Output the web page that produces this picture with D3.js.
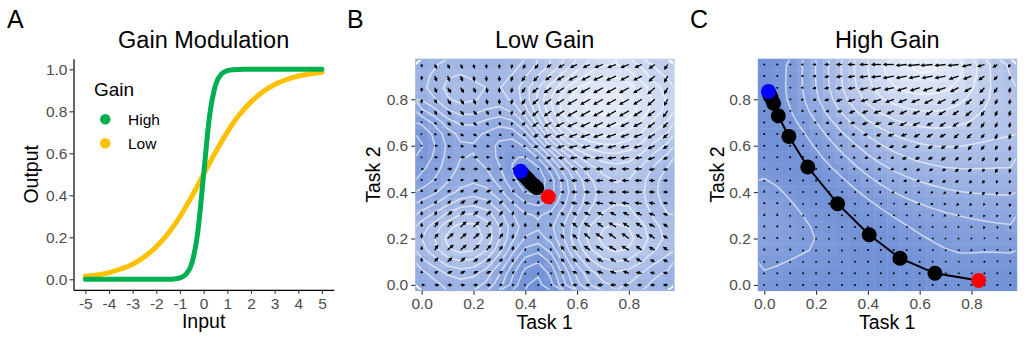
<!DOCTYPE html>
<html>
<head>
<meta charset="utf-8">
<script src="https://cdn.jsdelivr.net/npm/d3@7"></script>
<style>
  body { margin: 0; background: #ffffff; }
  svg { display: block; }
  text { font-family: "Liberation Sans", Arial, sans-serif; }
</style>
</head>
<body>
<svg id="fig" width="1024" height="341"></svg>
<script>
// ---------- Panel A: activation curves ----------
const lowInput  = [-5,-4.5,-4,-3.5,-3,-2.5,-2,-1.5,-1,-0.5,0,0.5,1,1.5,2,2.5,3,3.5,4,4.5,5];
const lowOutput = [0.014,0.021,0.032,0.049,0.072,0.107,0.155,0.218,0.299,0.395,0.5,0.605,0.701,0.782,0.845,0.893,0.928,0.951,0.968,0.979,0.986];
const highInput  = [-5,-4,-3,-2,-1.75,-1.5,-1.25,-1,-0.75,-0.5,-0.25,0,0.25,0.5,0.75,1,1.25,1.5,1.75,2,3,4,5];
const highOutput = [0,0,0,0.0002,0.0002,0.0006,0.0019,0.0067,0.023,0.0759,0.2227,0.5,0.7773,0.9241,0.977,0.9933,0.9981,0.9994,0.9998,1,1,1,1];
const gainLevels = ["High", "Low"];
const gainColors = ["#00B050", "#FFC000"];
const inputTicks = [-5,-4,-3,-2,-1,0,1,2,3,4,5];
const inputTickLabels = ["-5","-4","-3","-2","-1","0","1","2","3","4","5"];
const outputTicks = [0,0.2,0.4,0.6,0.8,1.0];
const outputTickLabels = ["0.0","0.2","0.4","0.6","0.8","1.0"];

// ---------- Panels B/C: task-space flow fields ----------
// grid positions along each task axis
const gridSteps = [0,0.05,0.1,0.15,0.2,0.25,0.3,0.35,0.4,0.45,0.5,0.55,0.6,0.65,0.7,0.75,0.8,0.85,0.9,0.95];
const taskTicks = [0,0.2,0.4,0.6,0.8];
const taskTickLabels = ["0.0","0.2","0.4","0.6","0.8"];

// Low gain: velocity components, rows listed from task 2 = 0.95 down to 0
const lowU = [
  [0,2,2,2,1,0,0,-1,-2,-3,-4,-5,-6,-6,-7,-7,-7,-6,-5,-3],
  [0,2,2,2,1,0,0,-1,-3,-4,-5,-6,-7,-7,-8,-8,-7,-7,-5,-3],
  [0,2,3,3,2,1,0,-1,-3,-5,-6,-7,-8,-8,-8,-8,-8,-7,-6,-3],
  [0,2,3,3,2,1,0,-1,-3,-5,-6,-7,-8,-8,-8,-8,-8,-7,-6,-3],
  [0,2,3,3,3,2,1,-1,-3,-5,-6,-7,-8,-8,-8,-8,-8,-7,-6,-4],
  [0,2,3,3,3,2,1,-1,-3,-5,-6,-7,-8,-8,-8,-8,-7,-7,-6,-4],
  [1,2,3,3,3,3,2,0,-2,-4,-6,-7,-7,-8,-8,-8,-7,-7,-6,-4],
  [1,3,3,3,3,3,2,1,-2,-4,-5,-6,-7,-7,-7,-7,-7,-7,-6,-4],
  [1,3,3,4,4,3,3,2,0,-2,-4,-5,-6,-6,-7,-7,-7,-6,-6,-4],
  [2,3,4,4,4,4,3,3,1,-1,-3,-4,-5,-6,-6,-6,-6,-6,-5,-4],
  [0,2,3,3,4,4,3,3,1,-1,-2,-4,-5,-5,-6,-6,-6,-6,-5,-4],
  [0,2,3,3,4,4,3,2,1,0,-2,-3,-5,-5,-6,-6,-6,-6,-5,-4],
  [0,2,3,4,4,4,3,1,0,0,-1,-3,-5,-5,-6,-6,-6,-6,-5,-4],
  [0,2,4,4,4,4,3,1,0,0,-1,-3,-4,-5,-5,-5,-5,-5,-5,-4],
  [0,3,4,5,5,4,3,1,0,0,-1,-3,-4,-5,-5,-6,-5,-5,-5,-4],
  [0,3,5,5,5,4,3,1,0,0,-1,-3,-4,-5,-6,-6,-6,-5,-5,-4],
  [0,3,5,5,5,4,3,1,0,0,-1,-3,-4,-5,-6,-6,-6,-5,-5,-4],
  [0,3,4,4,4,4,3,1,0,0,-1,-3,-4,-4,-5,-5,-5,-5,-4,-4],
  [0,3,4,4,4,4,3,2,0,0,-1,-3,-4,-4,-5,-5,-5,-5,-4,-4],
  [3,4,4,4,4,4,3,2,1,0,-1,-3,-4,-4,-5,-5,-5,-4,-4,-4]
];
const lowV = [
  [-3,-4,-4,-4,-4,-4,-4,-4,-4,-4,-3,-3,-3,-3,-3,-3,-3,-3,-4,-5],
  [-4,-5,-5,-5,-5,-5,-5,-5,-5,-5,-4,-4,-4,-4,-4,-4,-4,-4,-5,-6],
  [-4,-5,-5,-5,-5,-5,-5,-5,-5,-5,-5,-5,-5,-5,-5,-5,-5,-5,-6,-6],
  [-4,-4,-5,-5,-5,-5,-5,-5,-5,-5,-5,-5,-5,-5,-5,-5,-5,-5,-6,-6],
  [-3,-4,-4,-4,-4,-4,-4,-4,-4,-5,-5,-5,-5,-5,-5,-5,-5,-5,-5,-6],
  [-1,-2,-3,-3,-3,-3,-3,-3,-3,-4,-4,-4,-4,-4,-4,-4,-4,-4,-5,-5],
  [0,-1,-1,-2,-2,-2,-2,-2,-2,-3,-3,-3,-3,-3,-3,-3,-3,-3,-4,-4],
  [0,0,-1,-1,-1,-1,-1,-2,-1,-2,-2,-2,-2,-2,-2,-2,-2,-2,-3,-3],
  [0,0,0,0,0,0,-1,-1,-1,-1,-1,-1,-1,-1,-1,-1,-1,-1,-2,-2],
  [0,0,0,0,0,0,0,0,0,0,0,0,0,0,0,0,0,0,-1,-1],
  [2,2,1,1,0,0,1,1,0,0,0,0,0,0,0,0,0,0,0,0],
  [3,3,2,2,2,2,2,2,1,1,1,0,0,0,0,0,0,0,0,0],
  [3,3,3,3,3,3,3,3,3,3,2,2,1,1,1,1,1,1,1,1],
  [4,4,4,4,4,4,4,4,4,4,3,3,3,3,3,3,3,3,2,2],
  [4,5,5,5,5,5,4,4,4,4,4,4,4,4,4,4,4,4,3,3],
  [5,5,5,5,5,5,5,4,3,3,3,4,4,5,5,5,5,4,4,3],
  [4,5,5,5,5,5,4,4,2,2,2,4,4,4,4,4,4,4,3,3],
  [4,4,4,4,3,3,3,3,1,1,1,3,3,3,3,3,3,3,2,2],
  [3,2,2,2,2,2,2,2,1,1,1,2,2,2,2,2,2,1,1,1],
  [0,0,0,0,0,0,0,0,0,0,0,0,0,0,0,0,0,0,0,0]
];

// High gain: velocity components, rows listed from task 2 = 0.95 down to 0
const highU = [
  [0,0,-1,-2,-3,-4,-5,-6,-7,-8,-9,-9,-10,-10,-9,-9,-8,-6,-4,-2],
  [0,0,-1,-2,-3,-4,-5,-6,-7,-8,-9,-9,-9,-9,-9,-8,-7,-5,-3,-1],
  [0,0,-1,-2,-3,-4,-5,-6,-7,-8,-8,-8,-8,-8,-8,-7,-6,-4,-3,-1],
  [0,-1,-1,-2,-3,-4,-5,-6,-6,-7,-7,-7,-7,-7,-7,-6,-5,-4,-2,-1],
  [0,0,-1,-2,-2,-3,-4,-5,-5,-6,-6,-6,-6,-6,-6,-5,-5,-3,-2,-1],
  [0,0,0,-1,-2,-3,-3,-4,-5,-5,-5,-6,-6,-5,-5,-5,-4,-3,-2,-1],
  [0,0,0,-1,-1,-2,-3,-3,-4,-4,-5,-5,-5,-5,-5,-4,-4,-3,-2,-1],
  [0,0,0,0,-1,-2,-2,-3,-3,-4,-4,-4,-4,-4,-4,-4,-3,-3,-2,-1],
  [0,0,0,0,-1,-1,-2,-2,-3,-3,-3,-4,-4,-4,-4,-3,-3,-2,-2,-1],
  [0,0,0,0,0,-1,-1,-2,-2,-3,-3,-3,-3,-3,-3,-3,-3,-2,-2,-1],
  [0,0,0,0,0,0,-1,-1,-2,-2,-2,-3,-3,-3,-3,-3,-2,-2,-1,-1],
  [0,0,0,0,0,0,0,-1,-1,-2,-2,-2,-2,-2,-2,-2,-2,-2,-1,-1],
  [0,0,0,0,0,0,0,0,-1,-1,-1,-2,-2,-2,-2,-2,-2,-1,-1,-1],
  [0,0,0,0,0,0,0,0,0,-1,-1,-1,-1,-1,-2,-1,-1,-1,-1,-1],
  [0,0,0,0,0,0,0,0,0,0,-1,-1,-1,-1,-1,-1,-1,-1,0,0],
  [0,0,0,0,0,0,0,0,0,0,0,-1,-1,-1,-1,-1,-1,0,0,0],
  [0,0,0,0,0,0,0,0,0,0,0,0,-1,-1,-1,-1,-1,0,0,0],
  [0,0,0,0,0,0,0,0,0,0,0,0,0,0,-1,-1,-1,0,0,0],
  [1,0,0,0,0,0,0,0,0,0,0,0,0,0,-1,-1,-1,0,0,0],
  [1,1,0,0,0,0,0,0,0,0,0,0,0,0,0,0,0,0,0,0]
];
const highV = [
  [0,0,0,0,0,0,0,0,0,0,0,-1,-1,-1,-1,-1,-2,-2,-3,-3],
  [0,0,0,0,0,-1,-1,-1,-1,-1,-2,-2,-2,-2,-2,-3,-3,-4,-4,-4],
  [0,0,0,0,-1,-1,-1,-1,-2,-2,-2,-3,-3,-3,-3,-4,-4,-5,-5,-5],
  [0,0,0,-1,-1,-1,-2,-2,-2,-3,-3,-3,-3,-4,-4,-4,-5,-5,-5,-5],
  [0,0,0,0,-1,-1,-1,-2,-2,-2,-3,-3,-3,-4,-4,-4,-5,-5,-5,-5],
  [0,0,0,0,0,-1,-1,-1,-2,-2,-2,-3,-3,-3,-4,-4,-4,-5,-5,-5],
  [0,0,0,0,0,0,-1,-1,-1,-2,-2,-2,-3,-3,-3,-4,-4,-4,-5,-5],
  [0,0,0,0,0,0,0,-1,-1,-1,-2,-2,-2,-3,-3,-3,-4,-4,-4,-5],
  [1,0,0,0,0,0,0,-1,-1,-1,-1,-2,-2,-2,-3,-3,-3,-4,-4,-4],
  [1,1,0,0,0,0,0,0,-1,-1,-1,-1,-2,-2,-2,-3,-3,-3,-4,-4],
  [1,1,0,0,0,0,0,0,0,-1,-1,-1,-1,-2,-2,-2,-3,-3,-3,-3],
  [2,1,1,0,0,0,0,0,0,0,-1,-1,-1,-1,-2,-2,-2,-3,-3,-3],
  [2,2,1,1,0,0,0,0,0,0,0,-1,-1,-1,-1,-2,-2,-2,-2,-3],
  [2,2,1,1,1,0,0,0,0,0,0,0,-1,-1,-1,-1,-2,-2,-2,-2],
  [2,2,2,1,1,1,0,0,0,0,0,0,0,-1,-1,-1,-1,-2,-2,-2],
  [2,2,2,1,1,1,1,0,0,0,0,0,0,0,-1,-1,-1,-1,-1,-2],
  [2,2,2,1,1,1,1,1,0,0,0,0,0,0,0,0,-1,-1,-1,-1],
  [1,1,1,1,1,1,1,0,0,0,0,0,0,0,0,0,0,0,-1,-1],
  [0,0,0,0,0,0,0,0,0,0,0,0,0,0,0,0,0,0,0,0],
  [0,0,0,0,0,0,0,0,0,0,0,0,0,0,0,0,0,0,0,0]
];

// learning trajectories (first point = start, last point = end)
const lowTrajTask1 = [0.489,0.444,0.432,0.420,0.410,0.400,0.390,0.382];
const lowTrajTask2 = [0.380,0.419,0.430,0.442,0.455,0.466,0.478,0.490];
const highTrajTask1 = [0.828,0.659,0.524,0.405,0.283,0.168,0.095,0.054,0.036,0.026,0.020,0.016];
const highTrajTask2 = [0.019,0.050,0.115,0.216,0.350,0.508,0.640,0.729,0.783,0.808,0.823,0.834];

// ---------- drawing ----------
const svg = d3.select("#fig");
const tickGrey = "#4D4D4D";
const tickFont = 15.5;
const axisTitleFont = 19.5;
const titleFont = 23.5;

function styleAxis(g, withDomain) {
  g.selectAll(".tick line").attr("stroke", "#333333").attr("stroke-width", 1.1);
  g.selectAll(".tick text").attr("fill", tickGrey).attr("font-size", tickFont)
    .attr("font-family", '"Liberation Sans", Arial, sans-serif');
  if (withDomain) g.select(".domain").attr("stroke", "#000").attr("stroke-width", 1.2);
  else g.select(".domain").remove();
}

// Panel A
(function drawGainPanel() {
  const x = d3.scaleLinear().domain([-5.5, 5.5]).range([73.5, 333.8]);
  const y = d3.scaleLinear().domain([-0.05, 1.05]).range([289.8, 58.8]);
  const g = svg.append("g");

  const line = d3.line().curve(d3.curveMonotoneX);
  const series = [
    { name: "Low", xs: lowInput, ys: lowOutput, color: gainColors[1] },
    { name: "High", xs: highInput, ys: highOutput, color: gainColors[0] }
  ];
  series.forEach(s => {
    g.append("path")
      .attr("d", line(s.xs.map((v, i) => [x(v), y(s.ys[i])])))
      .attr("fill", "none").attr("stroke", s.color)
      .attr("stroke-width", 5).attr("stroke-linecap", "round").attr("stroke-linejoin", "round");
  });

  const xa = g.append("g").attr("transform", `translate(0,${y.range()[0]})`)
    .call(d3.axisBottom(x).tickValues(inputTicks).tickFormat((d, i) => inputTickLabels[i])
      .tickSize(4).tickSizeOuter(0).tickPadding(4));
  styleAxis(xa, true);
  const ya = g.append("g").attr("transform", `translate(${x.range()[0]},0)`)
    .call(d3.axisLeft(y).tickValues(outputTicks).tickFormat((d, i) => outputTickLabels[i])
      .tickSize(4).tickSizeOuter(0).tickPadding(2));
  styleAxis(ya, true);

  g.append("text").attr("x", (x.range()[0] + x.range()[1]) / 2).attr("y", 328)
    .attr("text-anchor", "middle").attr("font-size", axisTitleFont).text("Input");
  g.append("text").attr("transform", `translate(38,${(y.range()[0] + y.range()[1]) / 2}) rotate(-90)`)
    .attr("text-anchor", "middle").attr("font-size", axisTitleFont).text("Output");
  g.append("text").attr("x", (x.range()[0] + x.range()[1]) / 2).attr("y", 47.5)
    .attr("text-anchor", "middle").attr("font-size", titleFont).text("Gain Modulation");
  g.append("text").attr("x", 7).attr("y", 28).attr("font-size", 25).text("A");

  // legend
  const lg = g.append("g");
  lg.append("text").attr("x", 94).attr("y", 96).attr("font-size", 19).text("Gain");
  gainLevels.forEach((lvl, i) => {
    const cy = 119.3 + i * 24;
    lg.append("circle").attr("cx", 105.3).attr("cy", cy).attr("r", 5.2).attr("fill", gainColors[i]);
    lg.append("text").attr("x", 128).attr("y", cy).attr("dy", "0.36em")
      .attr("font-size", 15.5).text(lvl);
  });
})();

// Panels B and C
function drawFieldPanel(opts) {
  const { left, title, letter, letterX, U, V, trajX, trajY, clipId, yTitleX, levels, smooth } = opts;
  const n = gridSteps.length;
  const half = (gridSteps[1] - gridSteps[0]) / 2;
  const x = d3.scaleLinear().domain([gridSteps[0] - half, gridSteps[n - 1] + half]).range([left, left + 259]);
  const y = d3.scaleLinear().domain([gridSteps[0] - half, gridSteps[n - 1] + half]).range([290.7, 58.7]);
  const g = svg.append("g");

  // grid of cells with speed
  const cells = [];
  const speed = new Float64Array(n * n);
  U.forEach((row, r) => row.forEach((u, c) => {
    const v = V[r][c];
    const s = Math.hypot(u, v);
    speed[r * n + c] = s;
    cells.push({ t1: gridSteps[c], t2: gridSteps[n - 1 - r], u, v, s, idx: r * n + c });
  }));
  // lightly smoothed speed surface for shading and contour lines
  const surface = Float64Array.from(speed);
  if (d3.blur2) d3.blur2({ data: surface, width: n, height: n }, smooth);
  const ext = d3.extent(surface);
  const fill = d3.scaleLinear().domain(ext).range(["#7090D6", "#E4EAF7"]).interpolate(d3.interpolateRgb);

  g.append("g").selectAll("rect").data(cells).join("rect")
    .attr("x", d => x(d.t1 - half)).attr("y", d => y(d.t2 + half))
    .attr("width", x(half * 2) - x(0) + 0.4).attr("height", y(0) - y(half * 2) + 0.4)
    .attr("fill", d => fill(surface[d.idx]));

  // speed contours
  const thresholds = d3.ticks(ext[0], ext[1], levels);
  const contours = d3.contours().size([n, n]).thresholds(thresholds)(Array.from(surface));
  const proj = d3.geoTransform({
    point(px, py) {
      this.stream.point(x((px - 0.5) * half * 2), y(gridSteps[n - 1] - (py - 0.5) * half * 2));
    }
  });
  const path = d3.geoPath(proj);
  svg.append("clipPath").attr("id", clipId).append("rect")
    .attr("x", x.range()[0] + 1.2).attr("y", y.range()[1] + 1.2)
    .attr("width", x.range()[1] - x.range()[0] - 2.4).attr("height", y.range()[0] - y.range()[1] - 2.4);
  g.append("g").attr("clip-path", `url(#${clipId})`)
    .selectAll("path").data(contours).join("path")
    .attr("d", path).attr("fill", "none")
    .attr("stroke", "rgba(255,255,255,0.6)").attr("stroke-width", 1.5);

  // arrows
  const arrowK = 0.0048;
  const ag = g.append("g");
  cells.forEach(d => {
    const x0 = x(d.t1), y0 = y(d.t2);
    const x1 = x(d.t1 + d.u * arrowK), y1 = y(d.t2 + d.v * arrowK);
    const L = Math.hypot(x1 - x0, y1 - y0);
    if (L < 0.6) {
      ag.append("circle").attr("cx", x0).attr("cy", y0).attr("r", 1).attr("fill", "#000");
      return;
    }
    const ux = (x1 - x0) / L, uy = (y1 - y0) / L;
    const h = Math.min(4, 1.8 + 0.35 * L), w = h * 0.5;
    const bx = x1 - ux * h, by = y1 - uy * h;
    ag.append("line").attr("x1", x0).attr("y1", y0).attr("x2", bx + ux * 0.6).attr("y2", by + uy * 0.6)
      .attr("stroke", "#000").attr("stroke-width", 1.3);
    ag.append("path")
      .attr("d", `M${x1},${y1}L${bx - uy * w},${by + ux * w}L${bx + uy * w},${by - ux * w}Z`)
      .attr("fill", "#000");
  });

  // trajectory
  const pts = trajX.map((t, i) => [x(t), y(trajY[i])]);
  g.append("path").attr("d", d3.line()(pts)).attr("fill", "none")
    .attr("stroke", "#000").attr("stroke-width", 2);
  g.append("g").selectAll("circle").data(pts.slice(1, -1)).join("circle")
    .attr("cx", p => p[0]).attr("cy", p => p[1]).attr("r", 7.5).attr("fill", "#000");
  g.append("circle").attr("cx", pts[0][0]).attr("cy", pts[0][1]).attr("r", 7.5).attr("fill", "#FF0000");
  g.append("circle").attr("cx", pts[pts.length - 1][0]).attr("cy", pts[pts.length - 1][1]).attr("r", 7.5).attr("fill", "#0000FF");

  // axes
  const xa = g.append("g").attr("transform", `translate(0,${y.range()[0]})`)
    .call(d3.axisBottom(x).tickValues(taskTicks).tickFormat((d, i) => taskTickLabels[i])
      .tickSize(4).tickSizeOuter(0).tickPadding(3));
  styleAxis(xa, false);
  const ya = g.append("g").attr("transform", `translate(${x.range()[0]},0)`)
    .call(d3.axisLeft(y).tickValues(taskTicks).tickFormat((d, i) => taskTickLabels[i])
      .tickSize(4).tickSizeOuter(0).tickPadding(3));
  styleAxis(ya, false);

  const cx = (x.range()[0] + x.range()[1]) / 2;
  g.append("text").attr("x", cx).attr("y", 329).attr("text-anchor", "middle")
    .attr("font-size", axisTitleFont).text("Task 1");
  g.append("text").attr("transform", `translate(${yTitleX},${(y.range()[0] + y.range()[1]) / 2}) rotate(-90)`)
    .attr("text-anchor", "middle").attr("font-size", axisTitleFont).text("Task 2");
  g.append("text").attr("x", cx).attr("y", 47.5).attr("text-anchor", "middle")
    .attr("font-size", titleFont).text(title);
  g.append("text").attr("x", letterX).attr("y", 28).attr("font-size", 25).text(letter);
}

drawFieldPanel({ left: 415.2, title: "Low Gain", letter: "B", letterX: 347, U: lowU, V: lowV,
  trajX: lowTrajTask1, trajY: lowTrajTask2, clipId: "clipLow", yTitleX: 380, levels: 16, smooth: 0.5 });
drawFieldPanel({ left: 757.8, title: "High Gain", letter: "C", letterX: 690, U: highU, V: highV,
  trajX: highTrajTask1, trajY: highTrajTask2, clipId: "clipHigh", yTitleX: 723.5, levels: 9, smooth: 0.8 });
</script>
</body>
</html>
